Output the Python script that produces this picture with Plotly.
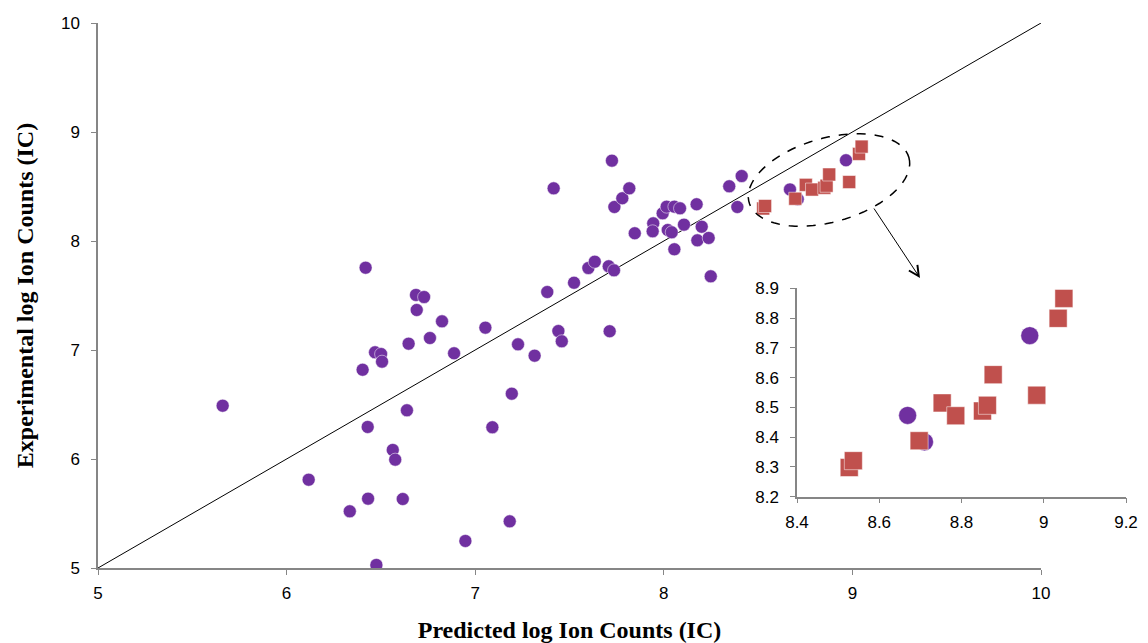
import numpy as np
import plotly.graph_objects as go

# ---- data ----
purple_x = [5.661, 6.117, 6.335, 6.419, 6.403, 6.432, 6.430, 6.476, 6.469, 6.501,
            6.506, 6.563, 6.576, 6.616, 6.638, 6.647, 6.686, 6.690, 6.729, 6.760,
            6.824, 6.888, 6.948, 7.054, 7.091, 7.183, 7.194, 7.227, 7.315, 7.382,
            7.416, 7.441, 7.459, 7.524, 7.600, 7.634, 7.708, 7.713, 7.725, 7.738,
            7.736, 7.780, 7.817, 7.846, 7.944, 7.941, 7.994, 8.015, 8.021, 8.056,
            8.042, 8.056, 8.086, 8.107, 8.174, 8.178, 8.201, 8.238, 8.249, 8.347,
            8.390, 8.413]
purple_y = [6.489, 5.810, 5.520, 7.755, 6.819, 5.636, 6.294, 5.028, 6.979, 6.963,
            6.893, 6.083, 5.994, 5.633, 6.447, 7.058, 7.505, 7.367, 7.486, 7.110,
            7.263, 6.970, 5.248, 7.205, 6.291, 5.428, 6.599, 7.052, 6.948, 7.532,
            8.483, 7.174, 7.080, 7.617, 7.752, 7.810, 7.768, 7.172, 8.737, 8.312,
            7.731, 8.392, 8.483, 8.071, 8.162, 8.089, 8.254, 8.315, 8.101, 8.315,
            8.080, 7.924, 8.300, 8.150, 8.337, 8.006, 8.131, 8.028, 7.676, 8.502,
            8.312, 8.596]

# purple points inside the highlighted (zoomed) region
purple_hi_x = [8.669, 8.710, 8.966]
purple_hi_y = [8.473, 8.384, 8.741]

red_x = [8.527, 8.537, 8.697, 8.753, 8.786, 8.851, 8.863, 8.877, 8.983, 9.035, 9.049]
red_y = [8.298, 8.321, 8.388, 8.515, 8.472, 8.488, 8.507, 8.610, 8.541, 8.799, 8.866]

line_xy = [5, 10]

PURPLE = "#7030A0"
RED = "#C0504D"
GREY = "#868686"

fig = go.Figure()

# diagonal y = x line
fig.add_trace(go.Scatter(x=line_xy, y=line_xy, mode="lines",
                         line=dict(color="black", width=1), hoverinfo="skip",
                         xaxis="x", yaxis="y"))

fig.add_trace(go.Scatter(x=purple_x + purple_hi_x, y=purple_y + purple_hi_y, mode="markers",
                         marker=dict(color=PURPLE, size=13, symbol="circle",
                                     line=dict(width=0.5, color="white")),
                         xaxis="x", yaxis="y"))
fig.add_trace(go.Scatter(x=red_x, y=red_y, mode="markers",
                         marker=dict(color=RED, size=13, symbol="square",
                                     line=dict(width=0.5, color="white")),
                         xaxis="x", yaxis="y"))

# inset
fig.add_trace(go.Scatter(x=purple_hi_x, y=purple_hi_y, mode="markers",
                         marker=dict(color=PURPLE, size=18, symbol="circle",
                                     line=dict(width=0.5, color="white")),
                         xaxis="x2", yaxis="y2"))
fig.add_trace(go.Scatter(x=red_x, y=red_y, mode="markers",
                         marker=dict(color=RED, size=18, symbol="square",
                                     line=dict(width=0.5, color="white")),
                         xaxis="x2", yaxis="y2"))

# ---- geometry (page pixels; the page body adds an 8px offset) ----
OFF = 8
PAGE_W, PAGE_H = 1148, 643
W, H = PAGE_W - OFF, PAGE_H - OFF
plot_left, plot_top, plot_bottom, plot_right = 98, 23, 568, 1138
main_x_end = 1041
L = plot_left - OFF
T = plot_top - OFF
B = PAGE_H - plot_bottom
R = PAGE_W - plot_right
plot_w = plot_right - plot_left
plot_h = plot_bottom - plot_top
px_per_x = (main_x_end - plot_left) / 5.0
px_per_y = plot_h / 5.0


def to_data(px, py):
    return 5 + (px - plot_left) / px_per_x, 5 + (plot_bottom - py) / px_per_y


# rotated dashed ellipse around the highlighted points
cx, cy, a, b, ang = 829, 180, 83, 42, np.deg2rad(15.7)
t = np.linspace(0, 2 * np.pi, 80)
ex = cx + a * np.cos(t) * np.cos(ang) + b * np.sin(t) * np.sin(ang)
ey = cy - a * np.cos(t) * np.sin(ang) + b * np.sin(t) * np.cos(ang)
pts = [to_data(u, v) for u, v in zip(ex, ey)]
path = "M " + " L ".join(f"{u:.4f},{v:.4f}" for u, v in pts) + " Z"
fig.add_shape(type="path", path=path, xref="x", yref="y",
              line=dict(color="black", width=1.5, dash="dash"))

tx, ty = to_data(873, 207)
hx, hy = to_data(920, 278)
fig.add_annotation(x=hx, y=hy, ax=tx, ay=ty, xref="x", yref="y", axref="x", ayref="y",
                   showarrow=True, arrowhead=5, arrowsize=2, arrowwidth=1,
                   arrowcolor="black", text="")

axis_common = dict(showline=True, linecolor=GREY, linewidth=1.5, ticks="outside",
                   ticklen=5, tickcolor=GREY, showgrid=False, zeroline=False,
                   automargin=False,
                   tickfont=dict(family="Liberation Sans, Arial", size=17, color="black"))

inset_x0 = (797 - plot_left) / plot_w
inset_x1 = (1126 - plot_left) / plot_w
inset_y0 = (plot_bottom - 496.7) / plot_h
inset_y1 = (plot_bottom - 288.3) / plot_h

title_font = dict(family="Liberation Serif, Times New Roman", size=24,
                  color="black", weight="bold")

fig.update_layout(
    width=W, height=H,
    margin=dict(l=L, r=R, t=T, b=B),
    paper_bgcolor="white", plot_bgcolor="rgba(0,0,0,0)",
    showlegend=False,
    xaxis=dict(domain=[0, (main_x_end - plot_left) / plot_w], range=[5, 10], dtick=1,
               ticklabelstandoff=4,
               title=dict(text="Predicted log Ion Counts (IC)", standoff=19, font=title_font),
               **axis_common),
    yaxis=dict(domain=[0, 1], range=[5, 10], dtick=1, ticklabelstandoff=8,
               title=dict(text="Experimental log Ion Counts (IC)", standoff=21, font=title_font),
               **axis_common),
    xaxis2=dict(domain=[inset_x0, inset_x1], range=[8.4, 9.2], dtick=0.2,
                ticklabelstandoff=4, anchor="y2", **axis_common),
    yaxis2=dict(domain=[inset_y0, inset_y1], range=[8.2, 8.9], dtick=0.1,
                ticklabelstandoff=8, anchor="x2", **axis_common),
)

fig.write_html("out.html")
